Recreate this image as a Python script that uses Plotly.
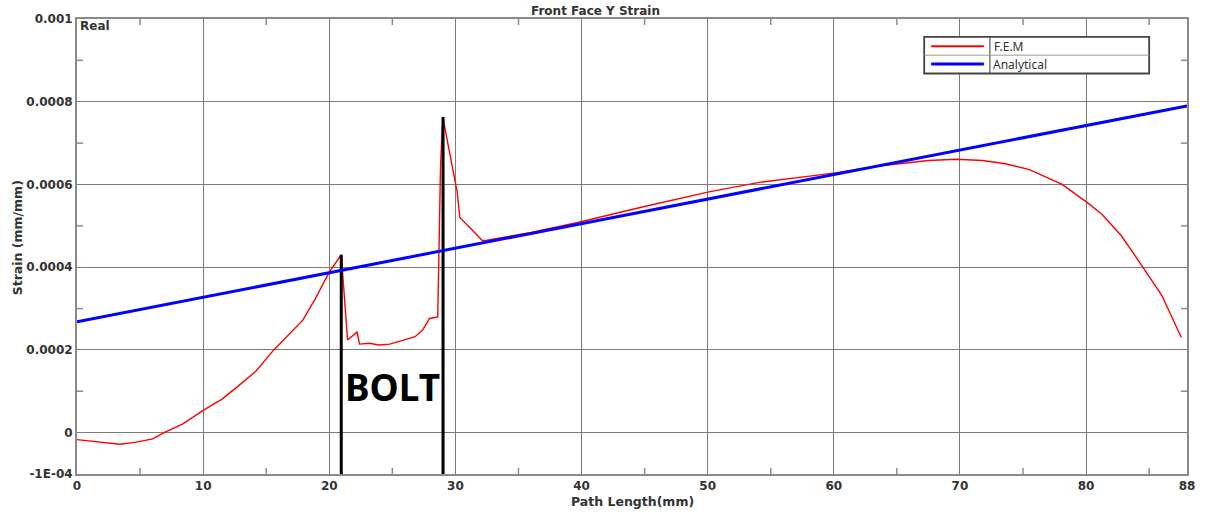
import plotly.graph_objects as go

# ---------------- data ----------------
fem_x = [0, 1.8, 3.4, 4.7, 6.0, 6.9, 8.4, 10.0, 11.5, 12.8, 14.2, 15.6, 17.1, 17.9,
         18.9, 20.0, 20.95, 21.45, 22.2, 22.4, 23.2, 23.9, 24.8, 25.45, 26.8, 27.4,
         27.95, 28.6, 28.82, 29.0, 30.15, 30.35, 32.15, 32.5, 36.0, 39.7, 44.9, 50.1,
         54.1, 58.1, 60.1, 63.4, 65.0, 67.5, 69.7, 71.8, 73.6, 75.5, 78.1, 80.1,
         81.25, 82.8, 84.5, 86.0, 87.55]
fem_y = [-0.000017, -0.000023, -0.000028, -0.000023, -0.000015, 0.0, 0.000021,
         0.000054, 0.000081, 0.000113, 0.000149, 0.0002, 0.000248, 0.000272,
         0.000324, 0.000388, 0.00043, 0.000224, 0.000243, 0.000214, 0.000216,
         0.000212, 0.000214, 0.00022, 0.000232, 0.000248, 0.000276, 0.00028,
         0.000644, 0.000763, 0.00058, 0.00052, 0.000464, 0.000465, 0.000484,
         0.000508, 0.000546, 0.000582, 0.000605, 0.00062, 0.000628, 0.000644,
         0.00065, 0.000658, 0.000661, 0.000658, 0.00065, 0.000636, 0.0006,
         0.000556, 0.000528, 0.000476, 0.0004, 0.000332, 0.00023]

analytical_x = [0, 88]
analytical_y = [0.000268, 0.00079]

bolt_x = [20.95, 29.02]
bolt_top = [0.00043, 0.000763]
axis_min_y = -0.0001

x_ticks = [0, 10, 20, 30, 40, 50, 60, 70, 80, 88]
x_tick_text = ["0", "10", "20", "30", "40", "50", "60", "70", "80", "88"]
x_minor = [5, 15, 25, 35, 45, 55, 65, 75, 85]
y_ticks = [-0.0001, 0, 0.0002, 0.0004, 0.0006, 0.0008, 0.001]
y_tick_text = ["-1E-04", "0", "0.0002", "0.0004", "0.0006", "0.0008", "0.001"]
y_minor = [0.0001, 0.0003, 0.0005, 0.0007, 0.0009]

# ---------------- figure ----------------
fig = go.Figure()
fig.add_trace(go.Scatter(x=fem_x, y=fem_y, mode="lines", name="F.E.M",
                         line=dict(color="#ff0000", width=1.4), showlegend=False))
for bx, bt in zip(bolt_x, bolt_top):
    fig.add_trace(go.Scatter(x=[bx, bx], y=[bt, axis_min_y], mode="lines",
                             line=dict(color="#000000", width=3), showlegend=False,
                             hoverinfo="skip"))
fig.add_trace(go.Scatter(x=analytical_x, y=analytical_y, mode="lines", name="Analytical",
                         line=dict(color="#0000ff", width=3), showlegend=False))

W, H = 1207, 515
ml, mr, mt, mb = 77, 15, 15, 41
pw, ph = W - ml - mr, H - mt - mb


def px(xp):
    return (xp - ml) / pw


def py(yp):
    return (H - mb - yp) / ph


tick_font = dict(family="DejaVu Sans", size=12, color="#333333", weight="bold")
AX_GRAY = "#8a8a8a"

fig.update_layout(
    width=W, height=H,
    margin=dict(l=ml, r=mr, t=mt, b=mb),
    paper_bgcolor="white", plot_bgcolor="white",
    showlegend=False,
    xaxis=dict(range=[0, 88], tickmode="array", tickvals=x_ticks, ticktext=x_tick_text,
               showgrid=True, gridcolor="#7a7a7a", gridwidth=1.3, zeroline=False,
               showline=True, linecolor=AX_GRAY, linewidth=2, mirror=True,
               ticks="", tickfont=tick_font),
    yaxis=dict(range=[-0.0001, 0.001], tickmode="array", tickvals=y_ticks,
               ticktext=y_tick_text,
               showgrid=True, gridcolor="#7a7a7a", gridwidth=1.3, zeroline=False,
               showline=True, linecolor=AX_GRAY, linewidth=2, mirror=True,
               ticks="", tickfont=tick_font),
)

annotations = [
    dict(text="Front Face Y Strain", x=px(598), y=py(7), xref="paper", yref="paper",
         xanchor="center", yanchor="middle", showarrow=False,
         font=dict(family="DejaVu Sans", size=12, color="#333333", weight="bold")),
    dict(text="Path Length(mm)", x=px(635), y=py(502), xref="paper", yref="paper",
         xanchor="center", yanchor="middle", showarrow=False,
         font=dict(family="DejaVu Sans", size=12.5, color="#333333", weight="bold")),
    dict(text="Strain (mm/mm)", x=px(17), y=py(236), xref="paper", yref="paper",
         xanchor="center", yanchor="middle", showarrow=False, textangle=-90,
         font=dict(family="DejaVu Sans", size=12.5, color="#333333", weight="bold")),
    dict(text="Real", x=px(78), y=py(22), xref="paper", yref="paper",
         xanchor="left", yanchor="middle", showarrow=False,
         font=dict(family="DejaVu Sans", size=12, color="#333333", weight="bold")),
    dict(text="BOLT", x=25.0, y=0.000112, xref="x", yref="y",
         xanchor="center", yanchor="middle", showarrow=False,
         font=dict(family="Noto Sans", size=37, color="#000000", weight="bold")),
    dict(text="F.E.M", x=px(996), y=py(42.5), xref="paper", yref="paper",
         xanchor="left", yanchor="middle", showarrow=False,
         font=dict(family="Noto Sans", size=12, color="#333333")),
    dict(text="Analytical", x=px(995), y=py(61), xref="paper", yref="paper",
         xanchor="left", yanchor="middle", showarrow=False,
         font=dict(family="Noto Sans", size=12, color="#333333")),
]
fig.update_layout(annotations=annotations)

shapes = []
# minor tick marks (inside, on all four sides), positioned from the data scale
tick_line = dict(color=AX_GRAY, width=1.5)
for xv in x_minor:
    for anchor, (a, b) in ((0, (0, 6)), (1, (0, -6))):
        shapes.append(dict(type="line", xref="x", yref="paper", x0=xv, x1=xv,
                           ysizemode="pixel", yanchor=anchor, y0=a, y1=b,
                           line=tick_line, layer="above"))
for yv in y_minor:
    for anchor, (a, b) in ((0, (0, 6)), (1, (0, -6))):
        shapes.append(dict(type="line", yref="y", xref="paper", y0=yv, y1=yv,
                           xsizemode="pixel", xanchor=anchor, x0=a, x1=b,
                           line=tick_line, layer="above"))

# legend box drawn as a small table
shapes += [
    dict(type="rect", xref="paper", yref="paper", x0=px(928), x1=px(1154),
         y0=py(70), y1=py(33), line=dict(color="#444444", width=1.8),
         fillcolor="white", layer="above"),
    dict(type="line", xref="paper", yref="paper", x0=px(994), x1=px(994),
         y0=py(70), y1=py(33), line=dict(color="#555555", width=1.2), layer="above"),
    dict(type="line", xref="paper", yref="paper", x0=px(928), x1=px(1154),
         y0=py(51.5), y1=py(51.5), line=dict(color="#999999", width=1), layer="above"),
    dict(type="line", xref="paper", yref="paper", x0=px(935), x1=px(988),
         y0=py(42.5), y1=py(42.5), line=dict(color="#ff0000", width=2), layer="above"),
    dict(type="line", xref="paper", yref="paper", x0=px(935), x1=px(988),
         y0=py(60.5), y1=py(60.5), line=dict(color="#0000ff", width=3), layer="above"),
]
fig.update_layout(shapes=shapes)

fig.write_html("out.html")
